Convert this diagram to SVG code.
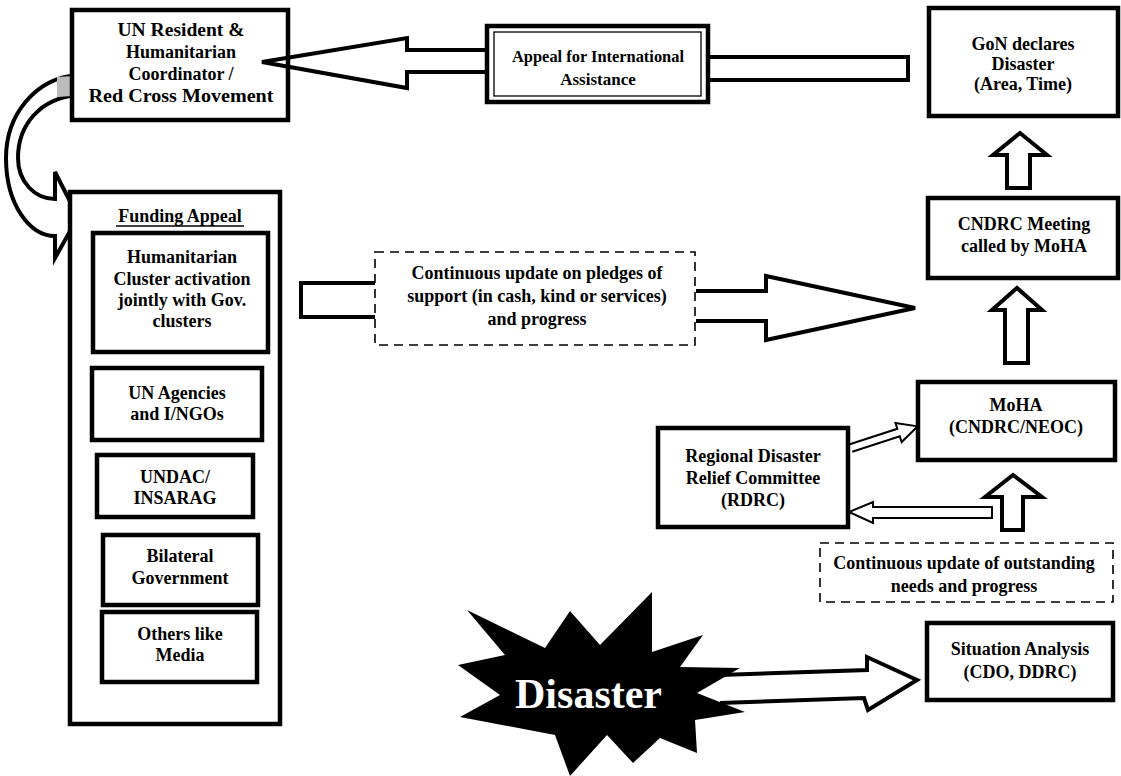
<svg xmlns="http://www.w3.org/2000/svg" width="1121" height="776" viewBox="0 0 1121 776">
<style>
.box{fill:#fff;stroke:#000;stroke-width:4.5}
.dash{fill:#fff;stroke:#000;stroke-width:1.6;stroke-dasharray:9 6}
.blk{fill:#fff;stroke:#000;stroke-width:4;stroke-linejoin:miter}
.thin{fill:#fff;stroke:#000;stroke-width:2}
.t{font-family:"Liberation Serif","Times New Roman",serif;font-weight:bold;font-size:18px;text-anchor:middle;fill:#000}
.s17{font-size:17px}
</style>
<rect width="1121" height="776" fill="#fff"/>

<g id="connectors">
  <path class="blk" d="M78,75 C35,78 6,115 6,158 C6,205 30,236 55,236 L55,258 L78,217 L55,172 L55,199 C35,199 18,182 18,158 C18,125 40,98 78,95 Z"/>
  <path d="M57,77 L73,76 L73,96 L57,97 Z" fill="#bbb"/>
  <rect class="blk" x="708" y="57" width="200" height="23"/>
  <path class="blk" d="M376,283 L301,283 L301,317 L376,317"/>
  <path class="blk" d="M696,291 L766,291 L766,276 L915,308 L766,340 L766,321 L696,321"/>
  <path class="blk" d="M1007,188 L1007,155 L993,155 L1020,133 L1047,155 L1030,155 L1030,188 Z"/>
  <path class="blk" d="M1005,363 L1005,310 L992,310 L1017,288 L1042,310 L1028,310 L1028,363 Z"/>
  <path class="blk" d="M1002,530 L1002,497 L985,497 L1013,475 L1042,497 L1023,497 L1023,530 Z"/>
  <path class="thin" transform="translate(851,448) rotate(-18)" d="M0,-4 L50,-4 L50,-10 L70,0 L50,10 L50,4 L0,4"/>
  <path class="thin" d="M992,507 L873,507 L873,502 L849,512 L873,523 L873,518 L992,518 Z"/>
  <path class="blk" d="M720,675 L867,670 L867,657 L917,680 L868,710 L864,698 L720,703"/>
</g>

<g id="un-resident">
  <rect class="box" x="72" y="10" width="216" height="110"/>
  <text class="t" x="181" y="36" textLength="127" lengthAdjust="spacingAndGlyphs">UN Resident &amp;</text>
  <text class="t" x="181" y="58">Humanitarian</text>
  <text class="t" x="181" y="80">Coordinator /</text>
  <text class="t" x="181" y="102" textLength="185" lengthAdjust="spacingAndGlyphs">Red Cross Movement</text>
</g>

<g id="appeal-arrow">
  <path class="blk" style="fill:none" d="M487,50 L407,50 L407,38 L262,62 L407,88 L407,72 L487,72"/>
</g>

<g id="appeal">
  <rect class="box" x="487" y="26" width="221" height="76"/>
  <rect x="494" y="32" width="207" height="64" fill="none" stroke="#000" stroke-width="1.3"/>
  <text class="t s17" x="598" y="62" textLength="172" lengthAdjust="spacingAndGlyphs">Appeal for International</text>
  <text class="t s17" x="598" y="85">Assistance</text>
</g>

<g id="gon">
  <rect class="box" x="929" y="8" width="189" height="108"/>
  <text class="t" x="1023" y="50">GoN declares</text>
  <text class="t" x="1023" y="70">Disaster</text>
  <text class="t" x="1023" y="90">(Area, Time)</text>
</g>

<g id="cndrc">
  <rect class="box" x="928" y="198" width="190" height="80"/>
  <text class="t" x="1024" y="230">CNDRC Meeting</text>
  <text class="t" x="1024" y="252">called by MoHA</text>
</g>

<g id="moha">
  <rect class="box" x="918" y="382" width="197" height="78"/>
  <text class="t" x="1016" y="411">MoHA</text>
  <text class="t" x="1016" y="433">(CNDRC/NEOC)</text>
</g>

<g id="rdrc">
  <rect class="box" x="658" y="428" width="190" height="99"/>
  <text class="t" x="753" y="462">Regional Disaster</text>
  <text class="t" x="753" y="484">Relief Committee</text>
  <text class="t" x="753" y="506">(RDRC)</text>
</g>

<g id="outstanding">
  <rect class="dash" x="820" y="543" width="293" height="59"/>
  <text class="t" x="964" y="569">Continuous update of outstanding</text>
  <text class="t" x="964" y="592">needs and progress</text>
</g>

<g id="situation">
  <rect class="box" x="927" y="623" width="186" height="77"/>
  <text class="t" x="1020" y="655">Situation Analysis</text>
  <text class="t" x="1020" y="678">(CDO, DDRC)</text>
</g>

<g id="pledges">
  <rect class="dash" x="375" y="252" width="320" height="93"/>
  <text class="t" x="537" y="279">Continuous update on pledges of</text>
  <text class="t" x="537" y="302">support (in cash, kind or services)</text>
  <text class="t" x="537" y="325">and progress</text>
</g>

<g id="funding">
  <rect class="box" x="70" y="192" width="210" height="532"/>
  <text class="t" x="180" y="222">Funding Appeal</text>
  <line x1="116" y1="226" x2="244" y2="226" stroke="#000" stroke-width="1.5"/>
</g>
<g id="humanitarian">
  <rect class="box" x="93" y="233" width="175" height="119"/>
  <text class="t" x="182" y="263">Humanitarian</text>
  <text class="t" x="182" y="285">Cluster activation</text>
  <text class="t" x="182" y="306">jointly with Gov.</text>
  <text class="t" x="182" y="327">clusters</text>
</g>
<g id="un-agencies">
  <rect class="box" x="92" y="368" width="170" height="72"/>
  <text class="t" x="177" y="399">UN Agencies</text>
  <text class="t" x="177" y="420">and I/NGOs</text>
</g>
<g id="undac">
  <rect class="box" x="97" y="455" width="156" height="62"/>
  <text class="t" x="175" y="483">UNDAC/</text>
  <text class="t" x="175" y="504">INSARAG</text>
</g>
<g id="bilateral">
  <rect class="box" x="103" y="535" width="155" height="70"/>
  <text class="t" x="180" y="562">Bilateral</text>
  <text class="t" x="180" y="584">Government</text>
</g>
<g id="others">
  <rect class="box" x="102" y="612" width="155" height="70"/>
  <text class="t" x="180" y="640">Others like</text>
  <text class="t" x="180" y="661">Media</text>
</g>

<g id="disaster">
  <polygon fill="#000" points="467,610 545,648 570,611 600,645 652,592 652,652 703,635 680,667 740,668 697,693 745,712 695,720 697,753 660,738 633,763 607,735 570,776 555,735 460,717 500,695 458,665 505,655"/>
  <text class="t" x="662" y="708" style="font-size:42px;fill:#fff;text-anchor:end">Disaster</text>
</g>
</svg>
